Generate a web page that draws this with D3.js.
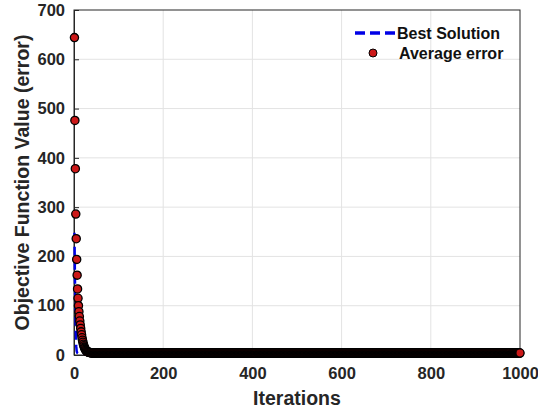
<!DOCTYPE html>
<html>
<head>
<meta charset="utf-8">
<script src="https://cdn.jsdelivr.net/npm/d3@7"></script>
<style>
  body { margin: 0; background: #fff; }
  svg { display: block; font-family: "Liberation Sans", Arial, sans-serif; }
  .axis text { font-weight: bold; fill: #262626; }
  .axis-title { font-weight: bold; fill: #262626; }
</style>
</head>
<body>
<svg id="chart"></svg>
<script>
// average error, iterations 1..N; the rest sits on a flat plateau
const avgHead = [644, 476, 378, 286, 236, 194, 162, 134, 115, 100, 88, 78, 69, 61, 54, 47, 41, 35, 30, 26,
  22, 19, 16, 14, 12, 10.5, 9.2, 8.2, 7.4, 6.8, 6.3, 5.9, 5.6, 5.3, 5.1, 4.9, 4.7, 4.6, 4.5, 4.4,
  4.3, 4.2, 4.1, 4.0];
const avgPlateau = 4.0;
// best solution, iterations 1..N
const bestHead = [248, 165, 95, 45, 18, 8, 5, 4, 3.5, 3.2, 3.0];
const bestPlateau = 3.0;
const iterationCount = 1000;

const xTicks = [0, 200, 400, 600, 800, 1000];
const yTicks = [0, 100, 200, 300, 400, 500, 600, 700];
const seriesNames = ['Best Solution', 'Average error'];

const config = {
  width: 538, height: 412,
  margin: {top: 10, right: 18, bottom: 57, left: 74}
};

const iterations = d3.range(1, iterationCount + 1);
const avgData = iterations.map(i => ({x: i, y: i <= avgHead.length ? avgHead[i - 1] : avgPlateau}));
const bestData = iterations.map(i => ({x: i, y: i <= bestHead.length ? bestHead[i - 1] : bestPlateau}));

const svg = d3.select('#chart')
    .attr('width', config.width)
    .attr('height', config.height);

const w = config.width - config.margin.left - config.margin.right;
const h = config.height - config.margin.top - config.margin.bottom;

const chart = svg.append('g')
    .attr('transform', `translate(${config.margin.left},${config.margin.top})`);

const xScale = d3.scaleLinear().domain([0, 1000]).range([0, w]);
const yScale = d3.scaleLinear().domain([0, 700]).range([h, 0]);

// grid
chart.append('g')
  .selectAll('line.vgrid')
  .data(xTicks.slice(1, -1))
  .join('line')
    .attr('x1', d => xScale(d)).attr('x2', d => xScale(d))
    .attr('y1', 0).attr('y2', h)
    .attr('stroke', '#e3e3e3').attr('stroke-width', 1);

chart.append('g')
  .selectAll('line.hgrid')
  .data(yTicks.slice(1, -1))
  .join('line')
    .attr('x1', 0).attr('x2', w)
    .attr('y1', d => yScale(d)).attr('y2', d => yScale(d))
    .attr('stroke', '#e3e3e3').attr('stroke-width', 1);

// box
chart.append('rect')
    .attr('width', w).attr('height', h)
    .attr('fill', 'none')
    .attr('stroke', '#262626').attr('stroke-width', 1);

// axes
const xAxis = d3.axisBottom(xScale).tickValues(xTicks).tickSize(-5).tickPadding(12).tickFormat(d3.format('d'));
const yAxis = d3.axisLeft(yScale).tickValues(yTicks).tickSize(-5).tickPadding(9).tickFormat(d3.format('d'));

const xAxisG = chart.append('g').attr('class', 'axis').attr('transform', `translate(0,${h})`).call(xAxis);
const yAxisG = chart.append('g').attr('class', 'axis').call(yAxis);
[xAxisG, yAxisG].forEach(g => {
  g.select('.domain').attr('stroke', '#262626');
  g.selectAll('.tick line').attr('stroke', '#262626');
  g.selectAll('.tick text').style('font-size', '16.5px');
});

// best solution line
const line = d3.line().x(d => xScale(d.x)).y(d => yScale(d.y));
chart.append('path')
    .datum(bestData)
    .attr('d', line)
    .attr('fill', 'none')
    .attr('stroke', '#0000e6')
    .attr('stroke-width', 2.5)
    .attr('stroke-dasharray', '9,5');

// average error markers
chart.append('g')
  .selectAll('circle')
  .data(avgData)
  .join('circle')
    .attr('cx', d => xScale(d.x))
    .attr('cy', d => yScale(d.y))
    .attr('r', 4.1)
    .attr('fill', '#cc1818')
    .attr('stroke', '#000')
    .attr('stroke-width', 1.3);

// axis titles
svg.append('text')
    .attr('class', 'axis-title')
    .attr('x', config.margin.left + w / 2)
    .attr('y', 405)
    .attr('text-anchor', 'middle')
    .style('font-size', '19.5px')
    .text('Iterations');

svg.append('text')
    .attr('class', 'axis-title')
    .attr('transform', `translate(28.5,${config.margin.top + h / 2}) rotate(-90)`)
    .attr('text-anchor', 'middle')
    .style('font-size', '19.5px')
    .text('Objective Function Value (error)');

// legend
const legend = svg.append('g').attr('transform', 'translate(355,33)');
legend.append('line')
    .attr('x1', 0).attr('x2', 41).attr('y1', 0).attr('y2', 0)
    .attr('stroke', '#0000e6').attr('stroke-width', 3.5)
    .attr('stroke-dasharray', '10,5');
legend.append('circle')
    .attr('cx', 18).attr('cy', 20).attr('r', 4)
    .attr('fill', '#cc1818').attr('stroke', '#000').attr('stroke-width', 1);
legend.selectAll('text')
  .data(seriesNames)
  .join('text')
    .attr('x', (d, i) => i === 0 ? 42 : 44)
    .attr('y', (d, i) => i * 20)
    .attr('dy', '0.35em')
    .attr('font-weight', 'bold')
    .style('font-size', '16px')
    .attr('fill', '#111')
    .text(d => d);
</script>
</body>
</html>
